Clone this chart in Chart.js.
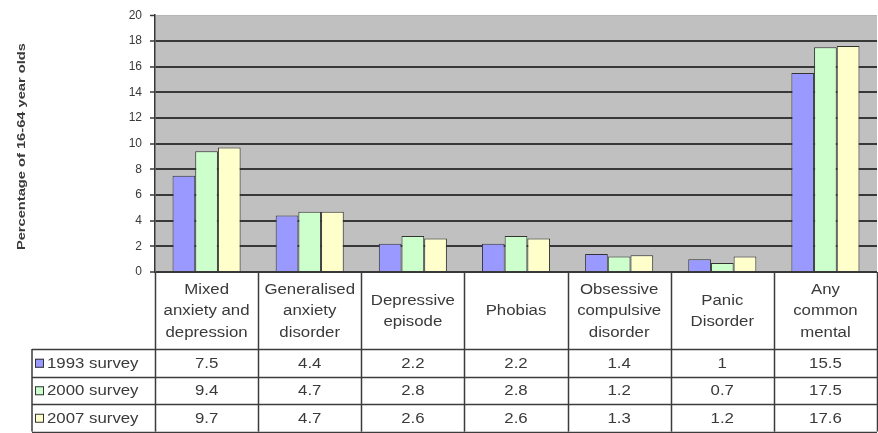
<!DOCTYPE html>
<html>
<head>
<meta charset="utf-8">
<script src="https://cdn.jsdelivr.net/npm/chart.js@4"></script>
<style>
html,body{margin:0;padding:0;background:#fff;}
#wrap{width:878px;height:433px;}
</style>
</head>
<body>
<div id="wrap"><canvas id="c" width="878" height="433"></canvas></div>
<script>
const categories = [
  ["Mixed", "anxiety and", "depression"],
  ["Generalised", "anxiety", "disorder"],
  ["Depressive", "episode"],
  ["Phobias"],
  ["Obsessive", "compulsive", "disorder"],
  ["Panic", "Disorder"],
  ["Any", "common", "mental"]
];
const seriesNames = ["1993 survey", "2000 survey", "2007 survey"];
const survey1993 = [7.5, 4.4, 2.2, 2.2, 1.4, 1, 15.5];
const survey2000 = [9.4, 4.7, 2.8, 2.8, 1.2, 0.7, 17.5];
const survey2007 = [9.7, 4.7, 2.6, 2.6, 1.3, 1.2, 17.6];
const yTicks = [0, 2, 4, 6, 8, 10, 12, 14, 16, 18, 20];
const yTitle = "Percentage of 16-64 year olds";

const seriesValues = [survey1993, survey2000, survey2007];
const seriesColors = ["#9999ff", "#ccffcc", "#ffffcc"];
const FONT = "Liberation Sans, Arial, sans-serif";
const TEXT = "#3a3a3a";
const LINE = "#3c3c3c";

function stretchText(ctx, text, x, y, sx, align) {
  ctx.save();
  ctx.translate(x, y);
  ctx.scale(sx, 1);
  ctx.textAlign = align || "center";
  ctx.fillText(text, 0, 0);
  ctx.restore();
}

const tablePlugin = {
  id: "tablePlugin",
  beforeDraw(chart) {
    const {ctx, chartArea: a} = chart;
    ctx.save();
    ctx.fillStyle = "#c0c0c0";
    ctx.fillRect(a.left, a.top, a.right - a.left, a.bottom - a.top);
    ctx.restore();
  },
  afterDraw(chart) {
    const {ctx, chartArea: a} = chart;
    const xs = chart.scales.x;
    const n = categories.length;
    const colW = (a.right - a.left) / n;
    const headTop = a.bottom;
    const headBot = headTop + 77;
    const rowH = 27.5;
    const tableBot = headBot + rowH * 3;
    const labelLeft = 32;

    ctx.save();
    // y-axis title
    ctx.fillStyle = TEXT;
    ctx.font = "bold 10px " + FONT;
    ctx.textBaseline = "middle";
    const w = ctx.measureText(yTitle).width;
    ctx.save();
    ctx.translate(22, (a.top + a.bottom) / 2 + 3);
    ctx.rotate(-Math.PI / 2);
    ctx.scale(207 / w, 1);
    ctx.textAlign = "center";
    ctx.fillText(yTitle, 0, 0);
    ctx.restore();

    // table lines
    ctx.strokeStyle = LINE;
    ctx.lineWidth = 1.5;
    ctx.beginPath();
    for (let i = 0; i <= n; i++) {
      const x = Math.round(a.left + i * colW) + 0.5;
      ctx.moveTo(x, headTop);
      ctx.lineTo(x, tableBot);
    }
    ctx.moveTo(labelLeft, headBot);
    ctx.lineTo(labelLeft, tableBot);
    for (let r = 0; r <= 3; r++) {
      const y = Math.round(headBot + r * rowH) + 0.5;
      ctx.moveTo(labelLeft, y);
      ctx.lineTo(a.right, y);
    }
    ctx.stroke();

    // header labels
    ctx.fillStyle = TEXT;
    ctx.font = "14px " + FONT;
    ctx.textBaseline = "middle";
    const lh = 21.5;
    categories.forEach((lines, i) => {
      const cx = xs.getPixelForValue(i);
      const cy = (headTop + headBot) / 2 + 1;
      const start = cy - (lines.length - 1) * lh / 2;
      lines.forEach((t, k) => stretchText(ctx, t, cx, start + k * lh, 1.2, "center"));
    });

    // rows
    seriesValues.forEach((vals, r) => {
      const cy = headBot + r * rowH + rowH / 2 + 1;
      ctx.fillStyle = seriesColors[r];
      ctx.fillRect(35, cy - 5, 9, 9);
      ctx.strokeStyle = "#333";
      ctx.lineWidth = 1;
      ctx.strokeRect(35.5, cy - 4.5, 8, 8);
      ctx.fillStyle = TEXT;
      stretchText(ctx, seriesNames[r], 47, cy, 1.2, "left");
      vals.forEach((v, i) => {
        stretchText(ctx, String(v), xs.getPixelForValue(i), cy, 1.2, "center");
      });
    });
    ctx.restore();
  }
};

new Chart(document.getElementById("c"), {
  type: "bar",
  data: {
    labels: categories,
    datasets: seriesValues.map((vals, i) => ({
      label: seriesNames[i],
      data: vals,
      backgroundColor: seriesColors[i],
      borderColor: "#333333",
      borderWidth: 1,
      categoryPercentage: 0.66,
      barPercentage: 1
    }))
  },
  options: {
    responsive: false,
    animation: false,
    layout: {padding: {top: 15, bottom: 161, right: 1, left: 0}},
    plugins: {legend: {display: false}, tooltip: {enabled: false}},
    scales: {
      x: {
        grid: {display: false},
        ticks: {display: false},
        border: {display: false},
        afterFit(s) { s.height = 0; }
      },
      y: {
        min: 0,
        max: 20,
        afterBuildTicks(s) { s.ticks = yTicks.map(v => ({value: v})); },
        afterFit(s) { s.width = 155; },
        ticks: {
          color: TEXT,
          font: {family: FONT, size: 12},
          padding: 8
        },
        grid: {
          color: c => (c.tick && c.tick.value === 20) ? "#b5b5b5" : "#383838",
          lineWidth: c => (c.tick && c.tick.value === 20) ? 1 : 2,
          tickColor: "#383838",
          tickLength: 5,
          tickWidth: 1.5
        },
        border: {display: true, color: "#383838", width: 1.5}
      }
    }
  },
  plugins: [tablePlugin]
});
</script>
</body>
</html>
